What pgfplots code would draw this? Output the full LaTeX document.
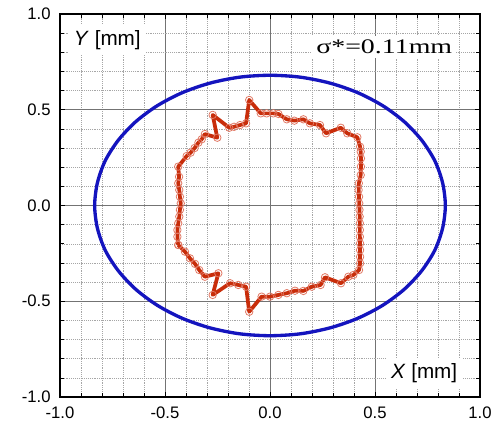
\documentclass[border=0pt]{standalone}
\usepackage{fontspec}
\setmainfont{Liberation Sans}
\newfontfamily\timesfont{Liberation Serif}
\usepackage{graphicx}
\usepackage{pgfplots}
\pgfplotsset{compat=1.18}

\definecolor{ellblue}{RGB}{20,20,190}
\definecolor{contred}{RGB}{200,45,10}
\definecolor{markedge}{RGB}{225,120,100}

\begin{document}
\begin{tikzpicture}
\begin{axis}[
    scale only axis,
    width=315pt, height=287.25pt,
    xmin=-1, xmax=1, ymin=-1, ymax=1,
    xtick={-1,-0.5,0,0.5,1},
    ytick={-1,-0.5,0,0.5,1},
    minor tick num=4,
    grid=both,
    major grid style={black!55, line width=0.6pt},
    minor grid style={black!35, line width=0.4pt, densely dotted},
    tick align=inside,
    major tick length=4pt, minor tick length=3pt,
    tick style={black, line width=0.5pt},
    axis line style={line width=1.4pt},
    tick label style={font=\fontsize{12.5}{14}\selectfont},
    xticklabel style={yshift=-4pt},
    yticklabel style={xshift=-3.5pt},
    /pgf/number format/.cd, fixed, fixed zerofill, precision=1, assume math mode=true,
]
% measured boundary (ellipse)
\addplot[ellblue, line width=2.5pt, smooth cycle] coordinates {
(0.835,0.000) (0.822,0.118) (0.785,0.233) (0.723,0.340) (0.640,0.437)
(0.537,0.521) (0.418,0.589) (0.286,0.639) (0.145,0.670) (0.000,0.680)
(-0.145,0.670) (-0.286,0.639) (-0.418,0.589) (-0.537,0.521) (-0.640,0.437)
(-0.723,0.340) (-0.785,0.233) (-0.822,0.118) (-0.835,0.000)
(-0.822,-0.118) (-0.785,-0.233) (-0.723,-0.340) (-0.640,-0.437)
(-0.537,-0.521) (-0.418,-0.589) (-0.286,-0.639) (-0.145,-0.670) (0.000,-0.680)
(0.145,-0.670) (0.286,-0.639) (0.418,-0.589) (0.537,-0.521) (0.640,-0.437)
(0.723,-0.340) (0.785,-0.233) (0.822,-0.118)
};
% computed contour
\addplot[contred, line width=2.8pt, line join=round,
    mark=o, mark size=2.8pt,
    mark options={fill=white, draw=markedge, line width=0.6pt}] coordinates {
(-0.437,-0.206) (-0.441,-0.163) (-0.441,-0.128) (-0.437,-0.093) (-0.432,-0.058)
(-0.429,-0.023) (-0.425,0.011) (-0.429,0.046) (-0.432,0.081) (-0.437,0.116)
(-0.433,0.150) (-0.437,0.203)
(-0.397,0.258) (-0.378,0.276) (-0.359,0.300) (-0.341,0.328) (-0.325,0.346)
(-0.310,0.373) (-0.251,0.354) (-0.273,0.473) (-0.194,0.406) (-0.171,0.411)
(-0.143,0.420) (-0.114,0.429) (-0.099,0.551) (-0.044,0.481) (-0.016,0.481)
(0.016,0.481) (0.040,0.478) (0.080,0.450) (0.116,0.443) (0.159,0.450)
(0.190,0.429) (0.238,0.420) (0.267,0.377) (0.337,0.406) (0.368,0.377)
(0.416,0.356) (0.429,0.307) (0.432,0.281) (0.433,0.246) (0.433,0.203)
(0.432,0.159) (0.423,0.116) (0.422,0.081) (0.424,0.046) (0.425,0.011)
(0.426,-0.023) (0.427,-0.058) (0.428,-0.093) (0.428,-0.128) (0.428,-0.163)
(0.429,-0.198) (0.429,-0.233) (0.429,-0.268) (0.429,-0.302)
(0.424,-0.337) (0.397,-0.363) (0.373,-0.372) (0.338,-0.406) (0.262,-0.375)
(0.241,-0.415) (0.199,-0.424) (0.159,-0.446) (0.119,-0.445) (0.080,-0.458)
(0.040,-0.467) (0.000,-0.476) (-0.040,-0.476) (-0.099,-0.555) (-0.114,-0.424)
(-0.151,-0.415) (-0.190,-0.406) (-0.273,-0.467) (-0.246,-0.354) (-0.310,-0.372)
(-0.337,-0.337) (-0.357,-0.305) (-0.381,-0.276) (-0.405,-0.241) (-0.437,-0.206)
};
\node[anchor=west, fill=white, inner sep=4pt, font=\fontsize{15.5}{18}\selectfont]
    at (axis cs:-0.96,0.864) {\textit{Y} [mm]};
\node[anchor=west, fill=white, inner sep=4pt, font=\fontsize{15.5}{18}\selectfont]
    at (axis cs:0.55,-0.875) {\textit{X} [mm]};
\node[anchor=west, fill=white, inner sep=3pt, font=\timesfont\fontsize{15.5}{18}\selectfont]
    at (axis cs:0.200,0.828) {\scalebox{1.35}[1]{σ*=0.11mm}};
\end{axis}
\pgfresetboundingbox
\path ([shift={(-45pt,-19.5pt)}]current axis.south west)
    rectangle ([shift={(15.75pt,10.5pt)}]current axis.north east);
\end{tikzpicture}
\end{document}
